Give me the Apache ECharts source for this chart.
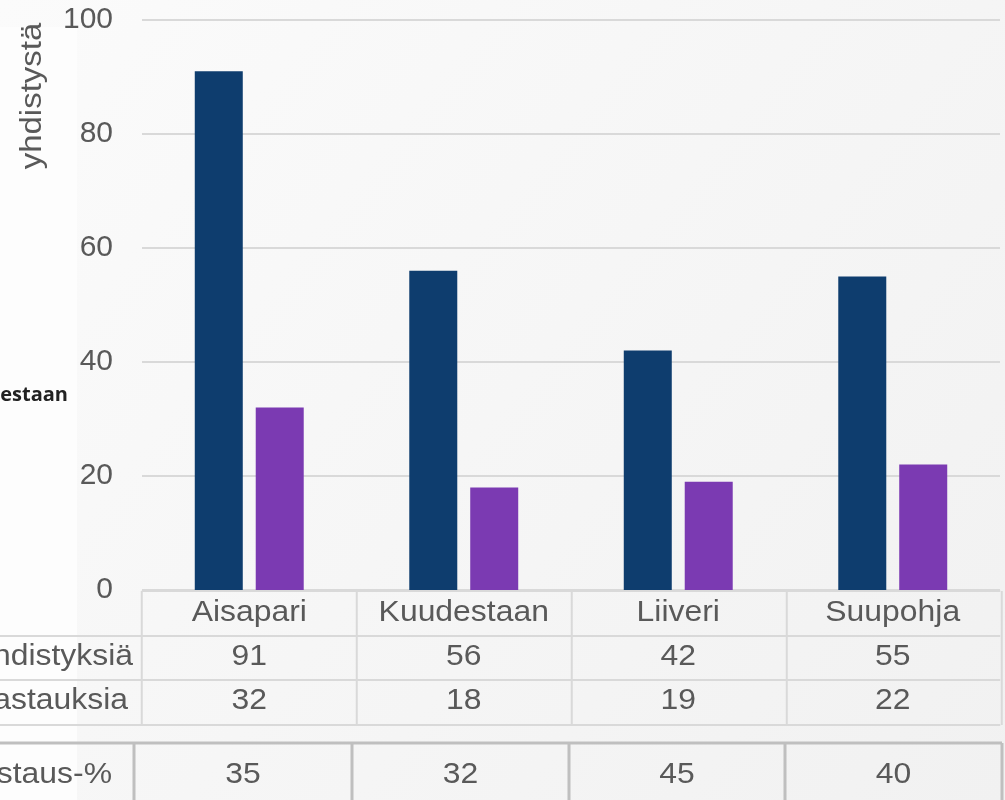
<!DOCTYPE html>
<html>
<head>
<meta charset="utf-8">
<script src="https://cdn.jsdelivr.net/npm/echarts@6/dist/echarts.min.js"></script>
<style>
  html, body { margin: 0; padding: 0; }
  #main { width: 1005px; height: 800px; }
</style>
</head>
<body>
<div id="main"></div>
<script>
var myChart = echarts.init(document.getElementById("main"));

const categories = ["Aisapari", "Kuudestaan", "Liiveri", "Suupohja"];
const yhdistyksia = [91, 56, 42, 55];
const vastauksia = [32, 18, 19, 22];
const vastausPros = [35, 32, 45, 40];
const rowLabels = ["Yhdistyksiä", "Vastauksia"];
const pctLabel = "Vastaus-%";

const font = "Liberation Sans, Arial, sans-serif";
const textColor = "#595959";
const lineColor = "#d9d9d9";
const stretch = 1.1; // slide text looks a bit wide

option = {
  backgroundColor: {
    type: "linear", x: 0, y: 0, x2: 1, y2: 1,
    colorStops: [{ offset: 0, color: "#fbfbfb" }, { offset: 1, color: "#f1f1f1" }]
  },
  animation: false,
  grid: { left: 142, right: 5, top: 20, bottom: 210 },
  xAxis: {
    type: "category",
    data: categories,
    axisLine: { show: false },
    axisTick: { show: false },
    axisLabel: { show: false }
  },
  yAxis: {
    type: "value",
    min: 0,
    max: 100,
    interval: 20,
    axisLabel: { fontSize: 30, color: textColor, fontFamily: font, margin: 29 },
    splitLine: { lineStyle: { color: lineColor, width: 2 } }
  },
  series: [
    {
      name: "Yhdistyksiä",
      type: "bar",
      data: yhdistyksia,
      barWidth: 48,
      barGap: "27%",
      itemStyle: { color: "#0e3d6e" }
    },
    {
      name: "Vastauksia",
      type: "bar",
      data: vastauksia,
      barWidth: 48,
      itemStyle: { color: "#7b3ab2" }
    }
  ]
};
myChart.setOption(option);

// data table under the plot, laid out from the category positions
function buildTable() {
  const els = [];
  const half = 107.5;
  const centers = categories.map(function (c, i) {
    return myChart.convertToPixel({ xAxisIndex: 0 }, i);
  });
  const left = centers[0] - half;
  const right = centers[centers.length - 1] + half;
  const rowY = [591, 636, 680, 725];
  const line = function (x1, y1, x2, y2, color, w) {
    els.push({ type: "line", shape: { x1: x1, y1: y1, x2: x2, y2: y2 },
      style: { stroke: color, lineWidth: w }, silent: true });
  };
  const text = function (str, x, y, align, extra) {
    els.push({ type: "text", x: x, y: y, scaleX: stretch, silent: true,
      style: Object.assign({ text: String(str), fontSize: 29, fontFamily: font,
        fill: textColor, align: align, verticalAlign: "middle" }, extra || {}) });
  };

  // left whitish panel
  els.push({ type: "rect", shape: { x: 0, y: 27, width: 77, height: 773 },
    style: { fill: "#fdfdfd" }, silent: true, z: -1 });

  // first table
  line(left, rowY[0], right, rowY[0], lineColor, 2);
  for (let r = 1; r < rowY.length; r++) line(0, rowY[r], right, rowY[r], lineColor, 2);
  for (let i = 0; i <= categories.length; i++) {
    const x = left + i * 2 * half;
    line(x, rowY[0], x, rowY[3], lineColor, 2);
  }
  categories.forEach(function (c, i) {
    text(c, centers[i], 613, "center");
    text(yhdistyksia[i], centers[i], 657, "center");
    text(vastauksia[i], centers[i], 701, "center");
  });
  text(rowLabels[0], 133, 657, "right");
  text(rowLabels[1], 128, 701, "right");

  // second table (response percentage)
  const bx = [134, 352, 569, 785, 1002];
  line(0, 743, bx[4], 743, "#bfbfbf", 3);
  bx.forEach(function (x) { line(x, 743, x, 800, "#bfbfbf", 3); });
  vastausPros.forEach(function (v, i) {
    text(v, (bx[i] + bx[i + 1]) / 2, 775, "center");
  });
  text(pctLabel, 112, 775, "right");

  // axis title and stray label
  els.push({ type: "text", x: 33, y: 96, rotation: Math.PI / 2, scaleX: stretch, silent: true,
    style: { text: "yhdistystä", fontSize: 30, fontFamily: font, fill: textColor,
      align: "center", verticalAlign: "middle" } });
  els.push({ type: "text", x: 68, y: 395, silent: true,
    style: { text: "Kuudestaan", fontSize: 20, fontWeight: "bold", fill: "#222222",
      fontFamily: "Open Sans, sans-serif", align: "right", verticalAlign: "middle" } });

  myChart.setOption({ graphic: { elements: els } });
}
buildTable();
</script>
</body>
</html>
